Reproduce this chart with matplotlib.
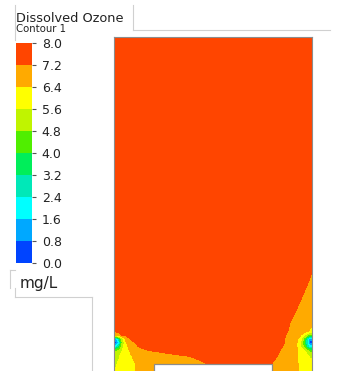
import numpy as np
import matplotlib
matplotlib.use("Agg")
import matplotlib.pyplot as plt
from matplotlib.colors import ListedColormap, BoundaryNorm
from matplotlib.cm import ScalarMappable
from matplotlib.patches import Rectangle
from matplotlib.lines import Line2D

# contour levels (mg/L) and band colours, bottom to top
levels = [0.0, 0.8, 1.6, 2.4, 3.2, 4.0, 4.8, 5.6, 6.4, 7.2, 8.0]
band_colors = ["#0044ff", "#00a8ff", "#00ffff", "#00e8b8", "#00ee5a",
               "#50ee00", "#c0f400", "#ffff00", "#ffaa00", "#ff4500"]

# sample grid (x across the tank, y up from the bottom edge)
grid_x = [0, 2, 5, 8, 12, 17, 24, 32, 45, 60, 80, 100, 130, 155, 165, 172, 178, 183, 187, 190, 193, 196, 198]
grid_y = [0, 8, 15, 20, 24, 28, 32, 36, 40, 48, 60, 80, 100, 334]

ozone = [
    [5.6, 5.7, 5.9, 6.0, 6.15, 6.3, 6.45, 6.75, 7.0, 7.05, 7.1, 7.3, 7.5, 7.25, 7.0, 6.85, 6.7, 6.45, 6.3, 6.2, 6.1, 6.0, 5.9],
    [5.4, 5.5, 5.7, 5.95, 6.1, 6.25, 6.5, 6.75, 6.95, 7.0, 7.05, 7.3, 7.5, 7.3, 7.0, 6.85, 6.7, 6.45, 6.25, 6.1, 6.0, 5.85, 5.8],
    [5.2, 5.2, 5.5, 5.9, 6.1, 6.35, 6.7, 6.9, 7.0, 7.1, 7.25, 7.4, 7.5, 7.45, 7.15, 6.95, 6.75, 6.45, 6.2, 6.0, 5.8, 5.5, 5.5],
    [4.8, 4.6, 5.0, 5.6, 6.1, 6.5, 6.95, 7.15, 7.25, 7.4, 7.5, 7.5, 7.55, 7.5, 7.22, 7.0, 6.8, 6.45, 6.1, 5.8, 5.2, 4.6, 4.6],
    [2.6, 2.2, 3.6, 5.2, 6.2, 6.7, 7.18, 7.3, 7.4, 7.5, 7.55, 7.55, 7.6, 7.55, 7.3, 7.1, 6.85, 6.4, 5.5, 4.6, 3.2, 2.0, 2.2],
    [0.4, 0.3, 1.8, 4.7, 6.3, 7.0, 7.3, 7.45, 7.5, 7.55, 7.6, 7.6, 7.6, 7.55, 7.35, 7.15, 6.9, 6.4, 5.4, 4.2, 2.4, 0.4, 0.4],
    [1.6, 1.2, 3.0, 5.0, 6.6, 7.25, 7.4, 7.5, 7.55, 7.6, 7.6, 7.6, 7.6, 7.6, 7.4, 7.15, 6.95, 6.5, 5.7, 4.5, 2.6, 1.0, 1.0],
    [6.8, 6.8, 7.0, 7.25, 7.35, 7.45, 7.5, 7.55, 7.6, 7.6, 7.6, 7.6, 7.6, 7.6, 7.45, 7.19, 7.05, 6.8, 6.4, 5.8, 5.0, 4.4, 4.4],
    [7.3, 7.3, 7.35, 7.4, 7.45, 7.5, 7.55, 7.6, 7.6, 7.6, 7.6, 7.6, 7.6, 7.6, 7.5, 7.25, 7.1, 7.0, 6.9, 6.8, 6.6, 6.3, 6.2],
    [7.45, 7.5, 7.55, 7.6, 7.6, 7.6, 7.6, 7.6, 7.6, 7.6, 7.6, 7.6, 7.6, 7.6, 7.55, 7.4, 7.1, 6.95, 6.85, 6.75, 6.7, 6.65, 6.6],
    [7.6, 7.6, 7.6, 7.6, 7.6, 7.6, 7.6, 7.6, 7.6, 7.6, 7.6, 7.6, 7.6, 7.6, 7.6, 7.5, 7.35, 7.15, 7.0, 6.9, 6.85, 6.8, 6.8],
    [7.6, 7.6, 7.6, 7.6, 7.6, 7.6, 7.6, 7.6, 7.6, 7.6, 7.6, 7.6, 7.6, 7.6, 7.6, 7.6, 7.55, 7.5, 7.35, 7.22, 7.1, 7.0, 7.0],
    [7.6, 7.6, 7.6, 7.6, 7.6, 7.6, 7.6, 7.6, 7.6, 7.6, 7.6, 7.6, 7.6, 7.6, 7.6, 7.6, 7.6, 7.6, 7.6, 7.5, 7.45, 7.3, 7.2],
    [7.6, 7.6, 7.6, 7.6, 7.6, 7.6, 7.6, 7.6, 7.6, 7.6, 7.6, 7.6, 7.6, 7.6, 7.6, 7.6, 7.6, 7.6, 7.6, 7.6, 7.6, 7.6, 7.6],
]

# bottom opening (x range and height)
opening_x = [40, 158]
opening_top = 7

W, H = 347, 371
fig = plt.figure(figsize=(W / 100, H / 100), dpi=100)

ax = fig.add_axes([114 / W, 0, 198 / W, 334 / H])
ax.contourf(grid_x, grid_y, np.array(ozone), levels=levels, colors=band_colors)
ax.add_patch(Rectangle((opening_x[0], -5), opening_x[1] - opening_x[0], opening_top + 5,
                       facecolor="white", edgecolor="#8c8c8c", linewidth=0.9, zorder=3))
ax.set_xlim(0, 198)
ax.set_ylim(0, 334)
ax.set_xticks([])
ax.set_yticks([])
for side in ["left", "right", "top"]:
    ax.spines[side].set_color("#8c8c8c")
    ax.spines[side].set_linewidth(0.8)
ax.spines["bottom"].set_visible(False)

# legend bar
cax = fig.add_axes([16 / W, (H - 263) / H, 16 / W, 220 / H])
cmap = ListedColormap(band_colors)
norm = BoundaryNorm(levels, cmap.N)
cb = fig.colorbar(ScalarMappable(norm=norm, cmap=cmap), cax=cax, ticks=levels)
cb.outline.set_visible(False)
cb.ax.set_yticklabels([f"{v:.1f}" for v in levels])
cb.ax.tick_params(length=3, width=0.8, color="#555555", pad=4, labelsize=9, labelcolor="#222222")

fig.text(16 / W, 1 - 22 / H, "Dissolved Ozone", fontsize=9.3, color="#222222", va="baseline")
fig.text(16 / W, 1 - 32 / H, "Contour 1", fontsize=7.3, color="#222222", va="baseline")
fig.text(20 / W, 1 - 288 / H, "mg/L", fontsize=11, color="#222222", va="baseline")

# light frame lines left over from the screenshot
frame = [
    ([15, 15], [5, 40]),
    ([133, 133], [5, 30]),
    ([133, 330], [30, 30]),
    ([10, 15], [270, 270]),
    ([10, 10], [270, 288]),
    ([15, 15], [288, 297]),
    ([15, 92], [297, 297]),
    ([92, 92], [297, 371]),
]
for xs, ys in frame:
    fig.add_artist(Line2D([x / W for x in xs], [1 - y / H for y in ys],
                          color="#d0d0d0", linewidth=0.8))

fig.savefig("out.png", dpi=100)
